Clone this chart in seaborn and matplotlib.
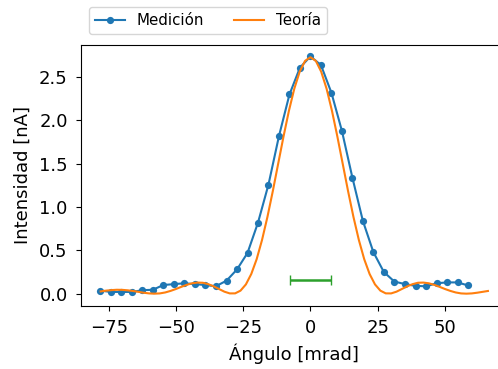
import matplotlib
matplotlib.use("Agg")
import matplotlib.pyplot as plt
import seaborn as sns

# Measured intensity vs. angle
angulo_med = [-78.1, -74.2, -70.3, -66.4, -62.5, -58.6, -54.7, -50.8, -46.9, -43.0,
              -39.1, -35.2, -31.2, -27.3, -23.4, -19.5, -15.6, -11.7, -7.8, -3.9,
              0.0, 3.9, 7.8, 11.7, 15.6, 19.5, 23.4, 27.3, 31.2, 35.2,
              39.1, 43.0, 46.9, 50.8, 54.7, 58.6]
intens_med = [0.035, 0.02, 0.02, 0.02, 0.04, 0.045, 0.10, 0.11, 0.12, 0.11,
              0.10, 0.085, 0.15, 0.28, 0.47, 0.82, 1.26, 1.82, 2.30, 2.61,
              2.74, 2.64, 2.32, 1.88, 1.34, 0.84, 0.48, 0.25, 0.14, 0.11,
              0.09, 0.085, 0.12, 0.13, 0.13, 0.095]

# Theoretical diffraction profile
angulo_teo = [-78, -76, -74, -72, -70, -68, -66, -64, -62, -60,
              -58, -56, -54, -52, -50, -48, -46, -44, -42, -40,
              -38, -36, -34, -32, -30, -28, -26, -24, -22, -20,
              -18, -16, -14, -12, -10, -8, -6, -4, -2, 0,
              2, 4, 6, 8, 10, 12, 14, 16, 18, 20,
              22, 24, 26, 28, 30, 32, 34, 36, 38, 40,
              42, 44, 46, 48, 50, 52, 54, 56, 58, 60,
              62, 64, 66]
intens_teo = [0.026, 0.035, 0.041, 0.045, 0.044, 0.039, 0.031, 0.021, 0.011, 0.003,
              0.0, 0.003, 0.014, 0.032, 0.054, 0.079, 0.102, 0.120, 0.128, 0.126,
              0.110, 0.085, 0.054, 0.023, 0.003, 0.0035, 0.035, 0.107, 0.227, 0.398,
              0.620, 0.885, 1.183, 1.500, 1.816, 2.112, 2.367, 2.563, 2.688, 2.73,
              2.688, 2.563, 2.367, 2.112, 1.816, 1.500, 1.183, 0.885, 0.620, 0.398,
              0.227, 0.107, 0.035, 0.0035, 0.003, 0.023, 0.054, 0.085, 0.110, 0.126,
              0.128, 0.120, 0.102, 0.079, 0.054, 0.032, 0.014, 0.003, 0.0, 0.003,
              0.011, 0.021, 0.031]

# Angular resolution marker
res_centro = 0.0
res_altura = 0.16
res_semiancho = 7.7

plt.rcParams["font.size"] = 13

fig = plt.figure(figsize=(4.98, 3.69), dpi=100)
ax = fig.add_axes([0.1627, 0.172, 0.856, 0.7074])

sns.lineplot(x=angulo_med, y=intens_med, ax=ax, color="#1f77b4", marker="o",
             markersize=5.2, markeredgewidth=0, linewidth=1.5, label="Medición",
             sort=False)
sns.lineplot(x=angulo_teo, y=intens_teo, ax=ax, color="#ff7f0e", linewidth=1.5,
             label="Teoría", sort=False)
ax.errorbar(res_centro, res_altura, xerr=res_semiancho, color="#2ca02c",
            capsize=3.4, linewidth=1.8)

ax.set_xlabel("Ángulo [mrad]", labelpad=5)
ax.set_ylabel("Intensidad [nA]", labelpad=5)
ax.set_xticks([-75, -50, -25, 0, 25, 50])
ax.set_yticks([0.0, 0.5, 1.0, 1.5, 2.0, 2.5])
ax.tick_params(pad=6)

ax.legend(loc="lower left", bbox_to_anchor=(0.0, 1.01), ncol=2, fontsize="small")

fig.savefig("out.png", dpi=100)
